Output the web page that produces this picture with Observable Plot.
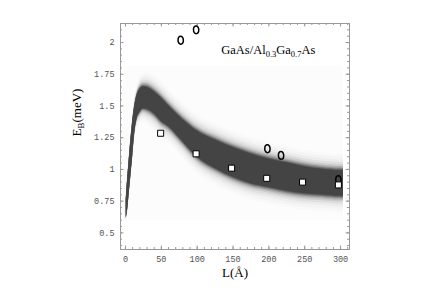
<!DOCTYPE html>
<html>
<head>
<meta charset="utf-8">
<script src="https://cdn.jsdelivr.net/npm/d3@7"></script>
<script src="https://cdn.jsdelivr.net/npm/@observablehq/plot@0.6"></script>
<style>
  html, body { margin: 0; padding: 0; background: #fff; }
  #chart { width: 436px; height: 304px; }
</style>
</head>
<body>
<div id="chart"></div>
<script>
// ---- data ----
const bandL     = [1, 3, 5, 8, 10, 13, 16, 20, 25, 30, 40, 50, 60, 80, 100, 125, 150, 175, 200, 225, 250, 275, 300, 304];
const bandUpper = [0.76, 0.92, 1.06, 1.26, 1.37, 1.50, 1.58, 1.63, 1.65, 1.645, 1.61, 1.56, 1.50, 1.39, 1.30, 1.23, 1.17, 1.12, 1.08, 1.05, 1.02, 1.00, 0.99, 0.99];
const bandLower = [0.62, 0.69, 0.81, 0.99, 1.11, 1.30, 1.40, 1.45, 1.48, 1.475, 1.44, 1.38, 1.34, 1.22, 1.10, 1.01, 0.94, 0.89, 0.86, 0.83, 0.81, 0.80, 0.79, 0.79];
const bandFade  = [0.3, 0.3, 0.3, 0.35, 0.4, 0.5, 0.6, 0.7, 0.8, 0.9, 1, 1, 1, 1, 1, 1, 1, 1, 1, 1, 1, 1, 1, 1];

const circleL = [77, 98.5, 198, 217, 297];
const circleE = [2.018, 2.10, 1.163, 1.11, 0.92];

const squareL = [49, 98.5, 148, 197, 247, 297];
const squareE = [1.285, 1.123, 1.01, 0.93, 0.90, 0.878];

const densityL = [-2, 304];
const densityE = [0.6, 1.81];

const xTickLabels = [0, 50, 100, 150, 200, 250, 300];
const yTickLabels = [0.5, 0.75, 1, 1.25, 1.5, 1.75, 2];

const titleParts = [["GaAs/Al", false], ["0.3", true], ["Ga", false], ["0.7", true], ["As", false]];
const yLabelParts = [["E", false], ["B", true], ["(meV)", false]];
const xLabel = "L(Å)";

// ---- layout ----
const W = 436, H = 304, mL = 120, mR = 87, mT = 23, mB = 55;
const frameH = H - mT - mB, frameW = W - mL - mR;

const band = bandL.map((L, i) => ({L, up: bandUpper[i], lo: bandLower[i], f: bandFade[i]}));
const circles = circleL.map((L, i) => ({L, E: circleE[i]}));
const squares = squareL.map((L, i) => ({L, E: squareE[i]}));

const fadeLevels = [
  [0.130, "#f9f9f9"], [0.108, "#f4f4f4"], [0.085, "#ececec"], [0.065, "#dfdfdf"],
  [0.047, "#cbcbcb"], [0.033, "#b0b0b0"], [0.022, "#909090"], [0.013, "#707070"],
  [0.006, "#555555"], [0, "#444444"]
];

const ellipse = {
  draw(ctx, size) {
    const r = Math.sqrt(size / Math.PI), ry = r, rx = r * 0.68, k = 0.5523;
    ctx.moveTo(rx, 0);
    ctx.bezierCurveTo(rx, ry * k, rx * k, ry, 0, ry);
    ctx.bezierCurveTo(-rx * k, ry, -rx, ry * k, -rx, 0);
    ctx.bezierCurveTo(-rx, -ry * k, -rx * k, -ry, 0, -ry);
    ctx.bezierCurveTo(rx * k, -ry, rx, -ry * k, rx, 0);
    ctx.closePath();
  }
};

const xMinor = d3.range(0, 311, 10);
const yMinor = d3.range(0.4, 2.151, 0.05).map(v => +v.toFixed(2));
const tickColor = "#999";
const monoFont = "'Liberation Mono', 'DejaVu Sans Mono', monospace";
const serifFont = "'Liberation Serif', 'DejaVu Serif', serif";

const marks = [
  Plot.rect([0], {x1: () => densityL[0], x2: () => densityL[1], y1: () => densityE[0], y2: () => densityE[1], fill: "#fcfcfc"}),
  ...fadeLevels.map(([off, color]) => Plot.areaY(band, {
    x: "L",
    y1: d => Math.max(densityE[0], d.lo - off * d.f),
    y2: d => Math.min(densityE[1], d.up + off * d.f),
    fill: color,
    curve: "monotone-x"
  })),
  Plot.frame({stroke: tickColor, strokeWidth: 1}),
  // inward ticks
  Plot.ruleX(xMinor, {x: d => d, insetTop: frameH - 2, stroke: tickColor}),
  Plot.ruleX(xMinor, {x: d => d, insetBottom: frameH - 2, stroke: tickColor}),
  Plot.ruleX(xTickLabels, {x: d => d, insetTop: frameH - 3.5, stroke: tickColor}),
  Plot.ruleX(xTickLabels, {x: d => d, insetBottom: frameH - 3.5, stroke: tickColor}),
  Plot.ruleY(yMinor, {y: d => d, insetRight: frameW - 2, stroke: tickColor}),
  Plot.ruleY(yMinor, {y: d => d, insetLeft: frameW - 2, stroke: tickColor}),
  Plot.ruleY(yTickLabels, {y: d => d, insetRight: frameW - 3.5, stroke: tickColor}),
  Plot.ruleY(yTickLabels, {y: d => d, insetLeft: frameW - 3.5, stroke: tickColor}),
  Plot.axisX(xTickLabels, {anchor: "bottom", tickSize: 0, tickPadding: 6, label: null,
    fontFamily: monoFont, fontSize: 8.5, fill: "#555", tickFormat: d => String(d)}),
  Plot.axisY(yTickLabels, {anchor: "left", tickSize: 0, tickPadding: 6, label: null,
    fontFamily: monoFont, fontSize: 8.5, fill: "#555", tickFormat: d => String(d)}),
  Plot.dot(circles, {x: "L", y: "E", symbol: ellipse, r: 3.9, fill: "none", stroke: "black", strokeWidth: 1.5}),
  Plot.dot(squares, {x: "L", y: "E", symbol: "square", r: 3.4, fill: "white", stroke: "black", strokeWidth: 1}),
  Plot.text([xLabel], {text: d => d, frameAnchor: "bottom", dy: 27.5, fontFamily: serifFont, fontSize: 13, fill: "black"}),
  Plot.text(["YLABEL"], {text: d => d, frameAnchor: "left", dx: -44, rotate: -90, fontFamily: serifFont, fontSize: 13, fill: "black"}),
  Plot.text(["TITLE"], {text: d => d, frameAnchor: "top-left", dx: 100.7, dy: 22, textAnchor: "start", fontFamily: serifFont, fontSize: 12.5, fill: "black"})
];

const chart = Plot.plot({
  width: W, height: H,
  marginLeft: mL, marginRight: mR, marginTop: mT, marginBottom: mB,
  x: {domain: [-7, 312.5]},
  y: {domain: [0.369, 2.15]},
  style: {background: "white", overflow: "visible"},
  marks
});

function subscriptify(el, parts, subSize, shift) {
  while (el.firstChild) el.removeChild(el.firstChild);
  const ns = "http://www.w3.org/2000/svg";
  let prevSub = false;
  parts.forEach(([str, sub]) => {
    const t = document.createElementNS(ns, "tspan");
    t.textContent = str;
    if (sub) { t.setAttribute("font-size", subSize); t.setAttribute("dy", shift); }
    else if (prevSub) { t.setAttribute("dy", -shift); }
    prevSub = sub;
    el.appendChild(t);
  });
}
chart.querySelectorAll("text").forEach(el => {
  if (el.textContent === "TITLE") subscriptify(el, titleParts, 8.5, 3);
  else if (el.textContent === "YLABEL") subscriptify(el, yLabelParts, 9, 3);
});

document.getElementById("chart").appendChild(chart);
</script>
</body>
</html>
